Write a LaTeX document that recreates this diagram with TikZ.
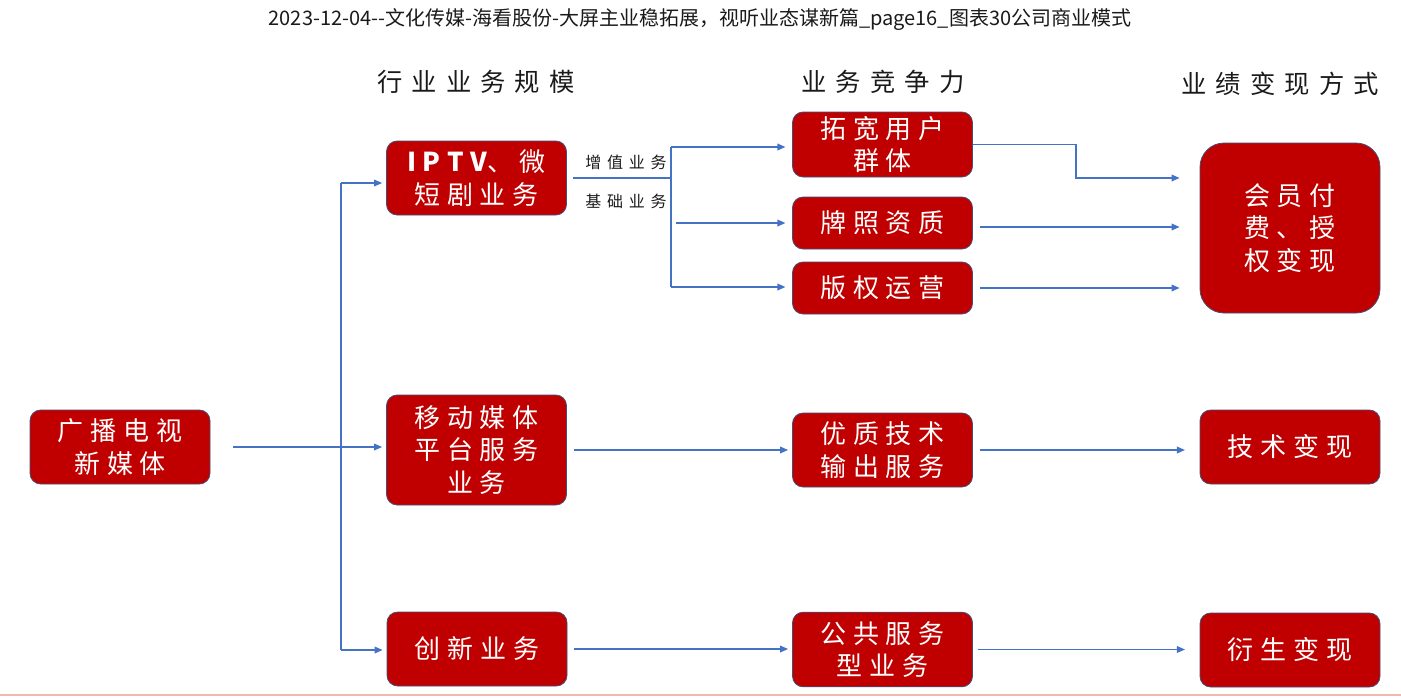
\documentclass[tikz,border=0pt]{standalone}
\usepackage{fontspec}
\setmainfont{Noto Sans CJK SC}
\newfontfamily\boxfont[LetterSpace=26]{Noto Sans CJK SC}
\newfontfamily\headfont[LetterSpace=36]{Noto Sans CJK SC}
\newfontfamily\tagfont[LetterSpace=36]{Noto Sans CJK SC}
\usetikzlibrary{arrows.meta}
\definecolor{boxred}{HTML}{C00000}
\definecolor{edge}{HTML}{41507A}
\definecolor{flow}{HTML}{4472C4}
\definecolor{rulepink}{HTML}{F4B8B0}
\definecolor{ink}{HTML}{1A1A1A}

\begin{document}
\begin{tikzpicture}[x=0.75pt,y=-0.75pt,text=ink,>={Triangle[length=6pt,width=5pt]},
  card/.style={draw=edge,line width=0.6pt,fill=boxred,rounded corners=8pt,text=white,
    font=\boxfont\fontsize{19.5}{24.5}\selectfont,align=center,minimum width=135pt,inner sep=0pt},
  head/.style={font=\headfont\fontsize{19}{23}\selectfont},
  tag/.style={font=\tagfont\fontsize{12}{14}\selectfont},
  link/.style={flow,line width=1pt},
  arr/.style={link,->}]
  \useasboundingbox (0,0) rectangle (1401,697);
  \node[font=\fontsize{15}{18}\selectfont] (title) at (700,20)
    {2023-12-04-{}-文化传媒-海看股份-大屏主业稳拓展，视听业态谋新篇\_page16\_图表30公司商业模式};
  \node[head] (h1) at (476,82) {行业业务规模};
  \node[head] (h2) at (883,82) {业务竞争力};
  \node[head] (h3) at (1280,84) {业绩变现方式};

  \node[card,minimum height=55.5pt] (bc) at (120,447) {广播电视\\新媒体};
  \node[card,minimum height=55.5pt] (iptv) at (476.5,178) {{\bfseries IPTV}、微\\短剧业务};
  \node[card,minimum height=82.5pt] (mob) at (476.5,450) {移动媒体\\平台服务\\业务};
  \node[card,minimum height=55.5pt] (inno) at (477,649) {创新业务};
  \node[card,minimum height=48.75pt] (user) at (882.5,144.5) {拓宽用户\\群体};
  \node[card,minimum height=39pt] (lic) at (882.5,223) {牌照资质};
  \node[card,minimum height=39pt] (copy) at (882.5,288) {版权运营};
  \node[card,minimum height=55.5pt] (tech) at (882.5,450) {优质技术\\输出服务};
  \node[card,minimum height=56pt] (pub) at (882.5,649.5) {公共服务\\型业务};
  \node[card,minimum height=127.5pt,rounded corners=18pt] (vip) at (1290,228) {会员付\\费、授\\权变现};
  \node[card,minimum height=55.5pt] (tcash) at (1290,447) {技术变现};
  \node[card,minimum height=55.5pt] (deriv) at (1290,650) {衍生变现};

  \coordinate (up) at (341,183);
  \coordinate (down) at (341,650);
  \draw[arr,shorten <=17pt,shorten >=3pt] (bc.east) -- (bc.east -| mob.west);
  \draw[link] (up) -- (down);
  \draw[arr,shorten >=3pt] (up) -- (up -| iptv.west);
  \draw[arr,shorten >=3pt] (down) -- (down -| inno.west);

  \coordinate (split) at (671,178);
  \coordinate (b1) at (671,147);
  \coordinate (b3) at (671,287);
  \draw[link,shorten <=4.5pt] (iptv.east) -- (split);
  \draw[link] (b1) -- (b3);
  \draw[arr,shorten >=5pt] (b1) -- (b1 -| user.west);
  \draw[arr,shorten <=3.5pt,shorten >=5pt] (b1 |- lic) -- (lic.west);
  \draw[arr,shorten >=5pt] (b3) -- (b3 -| copy.west);
  \node[tag] (add) at (626,162) {增值业务};
  \node[tag] (base) at (626,201) {基础业务};

  \coordinate (knee) at (1076,178);
  \draw[arr,shorten >=15pt] (user.east) -| (knee) -- (knee -| vip.west);
  \draw[arr,shorten <=5pt,shorten >=15pt] ([yshift=-3pt]lic.east) -- ([yshift=-3pt]lic.east -| vip.west);
  \draw[arr,shorten <=5pt,shorten >=15pt] (copy.east) -- (copy.east -| vip.west);
  \draw[arr,shorten <=5pt,shorten >=3pt] (mob.east) -- (mob.east -| tech.west);
  \draw[arr,shorten <=5pt,shorten >=11pt] (tech.east) -- (tech.east -| tcash.west);
  \draw[arr,shorten <=5pt,shorten >=3pt] (inno.east) -- (inno.east -| pub.west);
  \draw[arr,shorten <=4pt,shorten >=11pt] (pub.east) -- (pub.east -| deriv.west);

  \draw[rulepink,line width=1.5pt] (0,695) -- (1401,695);
\end{tikzpicture}
\end{document}
